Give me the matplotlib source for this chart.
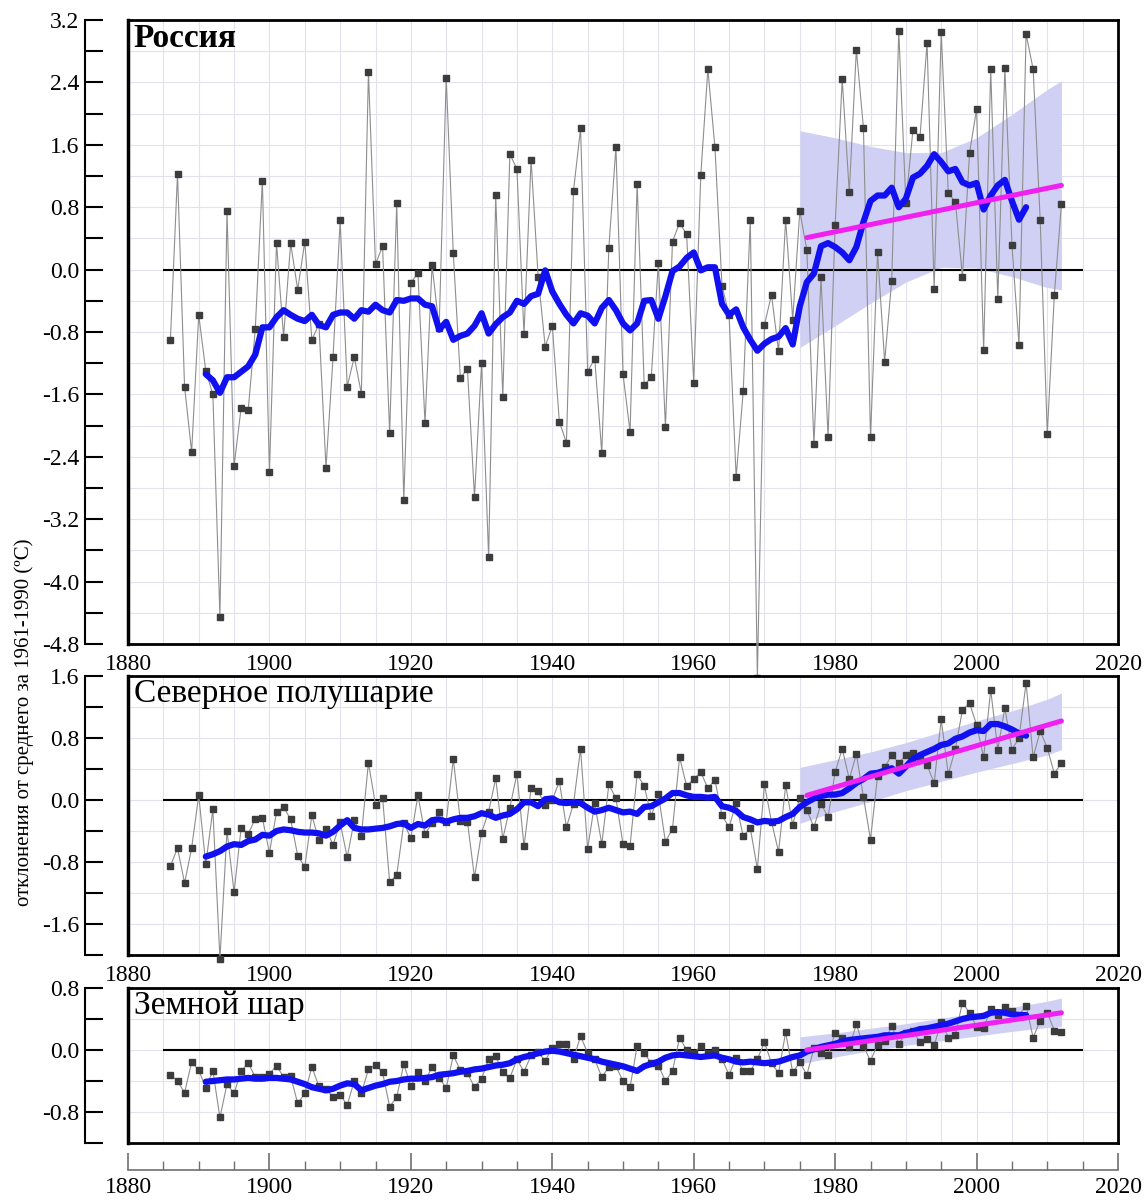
import numpy as np
import matplotlib
matplotlib.use('Agg')
import matplotlib.pyplot as plt
from matplotlib.ticker import MultipleLocator

plt.rcParams['font.family'] = ['Liberation Serif', 'DejaVu Serif']

# ---- data ----
years = np.arange(1886, 2013)
smooth_years = np.arange(1891, 2008)
trend_years = [1976, 2012]
band_years = [1975, 1980, 1985, 1990, 1995, 2000, 2005, 2010, 2012]

russia = [
    -0.90, 1.23, -1.50, -2.34, -0.58, -1.30, -1.60, -4.45, 0.75, -2.52,
    -1.77, -1.80, -0.76, 1.14, -2.60, 0.34, -0.86, 0.34, -0.26, 0.36,
    -0.90, -0.70, -2.54, -1.12, 0.63, -1.50, -1.12, -1.59, 2.53, 0.07,
    0.30, -2.10, 0.85, -2.96, -0.17, -0.04, -1.97, 0.06, -0.75, 2.46,
    0.21, -1.39, -1.27, -2.92, -1.20, -3.69, 0.95, -1.63, 1.48, 1.29,
    -0.83, 1.41, -0.09, -0.99, -0.72, -1.95, -2.22, 1.01, 1.81, -1.31,
    -1.14, -2.35, 0.28, 1.57, -1.34, -2.08, 1.10, -1.48, -1.38, 0.09,
    -2.02, 0.36, 0.60, 0.45, -1.45, 1.21, 2.57, 1.57, -0.21, -0.58,
    -2.66, -1.56, 0.64, -5.23, -0.71, -0.32, -1.05, 0.64, -0.64, 0.75,
    0.25, -2.24, -0.09, -2.15, 0.57, 2.44, 0.99, 2.82, 1.82, -2.15,
    0.22, -1.18, -0.14, 3.06, 0.85, 1.79, 1.70, 2.91, -0.25, 3.05,
    0.98, 0.87, -0.09, 1.49, 2.06, -1.03, 2.57, -0.38, 2.58, 0.32,
    -0.97, 3.02, 2.57, 0.63, -2.11, -0.32, 0.84]
russia_smooth = [
    -1.34, -1.42, -1.58, -1.38, -1.38, -1.31, -1.24, -1.09, -0.74, -0.74,
    -0.61, -0.52, -0.58, -0.63, -0.66, -0.58, -0.71, -0.74, -0.58, -0.55,
    -0.55, -0.63, -0.52, -0.54, -0.45, -0.52, -0.55, -0.39, -0.40, -0.37,
    -0.37, -0.45, -0.47, -0.77, -0.67, -0.90, -0.85, -0.82, -0.72, -0.56,
    -0.82, -0.70, -0.61, -0.55, -0.40, -0.44, -0.34, -0.31, -0.01, -0.28,
    -0.44, -0.58, -0.69, -0.56, -0.59, -0.69, -0.49, -0.39, -0.52, -0.69,
    -0.78, -0.69, -0.40, -0.39, -0.63, -0.34, -0.02, 0.04, 0.15, 0.22,
    -0.01, 0.03, 0.03, -0.44, -0.58, -0.51, -0.74, -0.90, -1.04, -0.95,
    -0.89, -0.86, -0.75, -0.96, -0.47, -0.16, -0.05, 0.30, 0.34, 0.29,
    0.22, 0.12, 0.29, 0.61, 0.88, 0.95, 0.95, 1.05, 0.80, 0.91,
    1.18, 1.23, 1.33, 1.48, 1.38, 1.26, 1.29, 1.12, 1.08, 1.11,
    0.77, 0.95, 1.08, 1.15, 0.88, 0.64, 0.80]
russia_trend = [0.41, 1.08]
russia_upper = [1.78, 1.69, 1.58, 1.50, 1.50, 1.69, 1.99, 2.31, 2.42]
russia_lower = [-1.00, -0.72, -0.43, -0.16, 0.03, 0.02, -0.09, -0.23, -0.26]

nh = [
    -0.85, -0.62, -1.07, -0.62, 0.06, -0.83, -0.12, -2.05, -0.40, -1.19,
    -0.36, -0.44, -0.24, -0.23, -0.68, -0.16, -0.09, -0.25, -0.72, -0.86,
    -0.20, -0.52, -0.37, -0.58, -0.29, -0.74, -0.26, -0.46, 0.48, -0.06,
    0.03, -1.06, -0.97, -0.30, -0.49, 0.06, -0.44, -0.30, -0.16, -0.28,
    0.53, -0.27, -0.28, -1.00, -0.42, -0.15, 0.28, -0.50, -0.10, 0.34,
    -0.60, 0.15, 0.11, -0.06, 0.00, 0.24, -0.35, -0.05, 0.66, -0.63,
    -0.04, -0.57, 0.20, 0.02, -0.57, -0.59, 0.33, 0.18, -0.21, 0.08,
    -0.54, -0.37, 0.55, 0.18, 0.27, 0.36, 0.15, 0.26, -0.20, -0.35,
    -0.04, -0.47, -0.36, -0.89, 0.20, -0.28, -0.67, 0.19, -0.32, 0.03,
    -0.13, -0.35, -0.05, -0.22, 0.36, 0.66, 0.27, 0.59, 0.04, -0.51,
    0.31, 0.42, 0.58, 0.48, 0.58, 0.60, 0.55, 0.45, 0.22, 1.04,
    0.33, 0.66, 1.16, 1.25, 0.97, 0.55, 1.42, 0.65, 1.19, 0.65,
    0.80, 1.51, 0.55, 0.89, 0.67, 0.34, 0.48]
nh_smooth = [
    -0.73, -0.70, -0.66, -0.60, -0.57, -0.58, -0.53, -0.51, -0.45, -0.46,
    -0.40, -0.38, -0.39, -0.41, -0.42, -0.42, -0.43, -0.46, -0.41, -0.33,
    -0.26, -0.36, -0.38, -0.38, -0.37, -0.36, -0.34, -0.31, -0.30, -0.36,
    -0.31, -0.33, -0.26, -0.25, -0.28, -0.25, -0.23, -0.23, -0.21, -0.17,
    -0.19, -0.23, -0.20, -0.18, -0.12, -0.03, -0.03, -0.08, 0.01, 0.02,
    -0.03, -0.04, -0.03, -0.04, -0.10, -0.15, -0.13, -0.10, -0.13, -0.16,
    -0.15, -0.18, -0.09, -0.08, -0.03, 0.02, 0.09, 0.09, 0.06, 0.04,
    0.04, 0.03, 0.04, -0.08, -0.10, -0.14, -0.22, -0.25, -0.29, -0.27,
    -0.28, -0.27, -0.22, -0.18, -0.09, -0.03, 0.02, 0.05, 0.07, 0.07,
    0.09, 0.15, 0.22, 0.27, 0.34, 0.35, 0.38, 0.41, 0.34, 0.43,
    0.53, 0.58, 0.62, 0.66, 0.71, 0.73, 0.79, 0.82, 0.87, 0.90,
    0.89, 0.98, 0.98, 0.95, 0.91, 0.86, 0.83]
nh_trend = [0.06, 1.02]
nh_upper = [0.42, 0.52, 0.62, 0.74, 0.88, 1.02, 1.15, 1.30, 1.38]
nh_lower = [-0.30, -0.15, -0.02, 0.12, 0.24, 0.36, 0.47, 0.58, 0.65]

globe = [
    -0.32, -0.40, -0.55, -0.16, -0.26, -0.49, -0.27, -0.87, -0.44, -0.56,
    -0.27, -0.17, -0.35, -0.35, -0.31, -0.20, -0.35, -0.34, -0.69, -0.56,
    -0.22, -0.47, -0.50, -0.61, -0.58, -0.71, -0.40, -0.56, -0.25, -0.19,
    -0.29, -0.73, -0.61, -0.18, -0.47, -0.29, -0.40, -0.22, -0.36, -0.49,
    -0.07, -0.26, -0.30, -0.48, -0.37, -0.12, -0.08, -0.29, -0.36, -0.12,
    -0.28, -0.07, -0.03, -0.14, 0.03, 0.08, 0.08, -0.12, 0.18, -0.04,
    -0.12, -0.35, -0.22, -0.21, -0.40, -0.48, 0.05, -0.04, -0.17, -0.20,
    -0.40, -0.27, 0.16, 0.00, -0.04, 0.05, -0.04, 0.00, -0.12, -0.32,
    -0.10, -0.27, -0.27, -0.12, 0.10, -0.17, -0.30, 0.23, -0.29, -0.16,
    -0.32, 0.02, -0.04, -0.07, 0.22, 0.16, 0.04, 0.33, 0.05, -0.14,
    0.07, 0.12, 0.31, 0.08, 0.22, 0.25, 0.10, 0.14, 0.06, 0.36,
    0.16, 0.20, 0.61, 0.48, 0.30, 0.28, 0.53, 0.45, 0.55, 0.50,
    0.45, 0.57, 0.16, 0.38, 0.48, 0.25, 0.23]
globe_smooth = [
    -0.41, -0.40, -0.39, -0.38, -0.38, -0.37, -0.36, -0.37, -0.37, -0.36,
    -0.36, -0.37, -0.38, -0.41, -0.44, -0.48, -0.50, -0.52, -0.50, -0.46,
    -0.43, -0.44, -0.52, -0.49, -0.46, -0.44, -0.41, -0.40, -0.38, -0.37,
    -0.37, -0.36, -0.35, -0.32, -0.31, -0.30, -0.28, -0.27, -0.25, -0.24,
    -0.22, -0.20, -0.19, -0.17, -0.12, -0.09, -0.07, -0.04, -0.02, -0.01,
    -0.02, -0.04, -0.06, -0.08, -0.10, -0.12, -0.15, -0.17, -0.19, -0.21,
    -0.24, -0.27, -0.21, -0.18, -0.15, -0.10, -0.07, -0.06, -0.07, -0.08,
    -0.09, -0.08, -0.07, -0.10, -0.12, -0.15, -0.16, -0.15, -0.16, -0.17,
    -0.16, -0.15, -0.12, -0.09, -0.07, -0.02, 0.01, 0.04, 0.06, 0.08,
    0.11, 0.13, 0.14, 0.15, 0.16, 0.17, 0.19, 0.19, 0.19, 0.22,
    0.24, 0.27, 0.28, 0.30, 0.32, 0.34, 0.37, 0.40, 0.42, 0.43,
    0.44, 0.48, 0.49, 0.48, 0.46, 0.45, 0.45]
globe_trend = [0.00, 0.48]
globe_upper = [0.17, 0.22, 0.28, 0.34, 0.41, 0.48, 0.55, 0.63, 0.67]
globe_lower = [-0.18, -0.09, -0.01, 0.06, 0.12, 0.18, 0.24, 0.29, 0.30]

W, H = 1146, 1200
LEFT, RIGHT = 128, 1118


def box(top, bottom):
    return [LEFT / W, 1 - bottom / H, (RIGHT - LEFT) / W, (bottom - top) / H]


def draw_panel(ax, ylim, title, weight, vals, smooth, trend, upper, lower, xlabels=True):
    ax.set_xlim(1880, 2020)
    ax.set_ylim(*ylim)
    ax.xaxis.set_major_locator(MultipleLocator(20))
    ax.xaxis.set_minor_locator(MultipleLocator(5))
    ax.yaxis.set_minor_locator(MultipleLocator(0.4))
    k0 = int(np.ceil(ylim[0] / 0.8 - 1e-6))
    k1 = int(np.floor(ylim[1] / 0.8 + 1e-6))
    yt = [k * 0.8 for k in range(k0, k1 + 1)]
    ax.set_yticks(yt, labels=[f'{v:.1f}' if abs(v) > 1e-6 else '0.0' for v in yt],
                  fontweight=weight)
    ax.grid(which='both', color='#e2e2ee', lw=0.8)
    ax.set_axisbelow(True)

    ax.fill_between(band_years, lower, upper, color='#d0d0f4', lw=0, zorder=1)
    ax.hlines(0, 1885, 2015, color='black', lw=1.5, zorder=2)
    ax.plot(years, vals, color='#8e8e8e', lw=0.8, zorder=3, clip_on=False)
    ax.plot(years, vals, ls='none', marker='s', ms=4, mfc='#3c3c3c', mec='#3c3c3c',
            zorder=4, clip_on=False)
    ax.plot(smooth_years, smooth, color='#1010f0', lw=4.5, solid_capstyle='round',
            solid_joinstyle='round', zorder=5)
    ax.plot(trend_years, trend, color='#f020f0', lw=3.6, solid_capstyle='round', zorder=6)

    ax.spines['left'].set_position(('outward', 31))
    ax.spines['left'].set_linewidth(1.5)
    for s in ['top', 'right', 'bottom']:
        ax.spines[s].set_linewidth(2)
    ax.plot([0, 0], [0, 1], transform=ax.transAxes, color='black', lw=2.5,
            clip_on=False, zorder=7)

    ax.tick_params(axis='y', which='both', direction='in', length=13, width=1.5,
                   labelsize=17, pad=4)
    ax.tick_params(axis='x', which='both', length=0, labelsize=17, pad=7,
                   labelbottom=xlabels)
    ax.annotate(title, xy=(0, 1), xycoords='axes fraction', xytext=(4, -2),
                textcoords='offset points', ha='left', va='top', fontsize=24,
                fontweight=weight, zorder=8)


fig = plt.figure(figsize=(W / 100, H / 100), dpi=100)

ax1 = fig.add_axes(box(20, 644))
draw_panel(ax1, (-4.8, 3.2), 'Россия', 'bold', russia, russia_smooth,
           russia_trend, russia_upper, russia_lower)

ax2 = fig.add_axes(box(676, 955))
draw_panel(ax2, (-2.0, 1.6), 'Северное полушарие', 'normal', nh, nh_smooth,
           nh_trend, nh_upper, nh_lower)

ax3 = fig.add_axes(box(988, 1143))
draw_panel(ax3, (-1.2, 0.8), 'Земной шар', 'normal', globe, globe_smooth,
           globe_trend, globe_upper, globe_lower, xlabels=False)

# separate year axis under the last panel
axb = fig.add_axes([LEFT / W, 1 - 1170 / H, (RIGHT - LEFT) / W, 0.0001])
axb.set_xlim(1880, 2020)
axb.set_yticks([])
axb.patch.set_visible(False)
for s in ['top', 'left', 'right']:
    axb.spines[s].set_visible(False)
axb.spines['bottom'].set_color('#707070')
axb.spines['bottom'].set_linewidth(1.2)
axb.xaxis.set_major_locator(MultipleLocator(20))
axb.xaxis.set_minor_locator(MultipleLocator(5))
axb.tick_params(axis='x', which='major', direction='in', length=12, width=1.2,
                color='#707070', labelsize=17, pad=5)
axb.tick_params(axis='x', which='minor', direction='in', length=6.5, width=1.0,
                color='#707070')

fig.text(24 / W, 1 - 722 / H, 'отклонения от среднего за 1961-1990 (ºC)',
         rotation=90, ha='center', va='center', fontsize=15)

fig.savefig('out.png', dpi=100)
